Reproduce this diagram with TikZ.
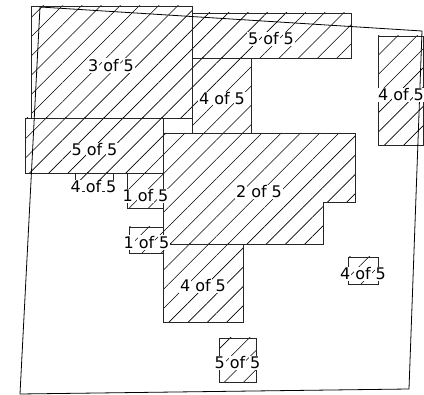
\documentclass[tikz,border=0pt]{standalone}
\usepackage{fontspec}
\setmainfont{DejaVu Sans}
\usetikzlibrary{patterns.meta}
\setlength{\fboxsep}{1pt}
\newcommand\wbox[1]{\colorbox{white}{\vphantom{0f}#1}}
\newcommand\lab[3]{\wbox{#1}\hspace{3pt}\wbox{#2}\hspace{3pt}\wbox{#3}}
\tikzset{
  hatch/.style={draw=black!85, line width=0.8pt, line join=miter,
    pattern={Lines[angle=45,distance=13.6pt,line width=0.6pt]}},
  outline/.style={draw=black, line width=0.8pt},
  lbl/.style={inner sep=0pt, font=\fontsize{16}{18}\selectfont}
}
\begin{document}
\begin{tikzpicture}[x=1pt,y=-1pt]
\useasboundingbox (0,0) rectangle (424,395);
% hatched regions
\draw[hatch] (31,6) rectangle (192,118);
\draw[hatch] (192,13) rectangle (351,58);
\draw[hatch] (192,58) rectangle (251,133);
\draw[hatch] (378,36) rectangle (423,145);
\draw[hatch] (25.7,118) rectangle (163,173);
\draw[hatch] (163,133) -- (355,133) -- (355,202) -- (323,202) -- (323,244) -- (163,244) -- cycle;
\draw[hatch] (163,244) rectangle (243,322);
\draw[hatch] (75,173) rectangle (113,191);
\draw[hatch] (127,173) rectangle (163,208);
\draw[hatch] (129,227) rectangle (163,253);
\draw[hatch] (348,257) rectangle (378,284);
\draw[hatch] (219,338) rectangle (256,382);
% outline quadrilateral
\draw[outline] (40,7) -- (422,31) -- (409,389) -- (20,394) -- cycle;
% labels
\node[lbl] (l3a) at (111,65.5) {\lab{3}{of}{5}};
\node[lbl] (l5a) at (271,39) {\lab{5}{of}{5}};
\node[lbl] (l4a) at (222,99) {\lab{4}{of}{5}};
\node[lbl] (l4b) at (401,95) {\lab{4}{of}{5}};
\node[lbl] (l5b) at (94.5,150) {\lab{5}{of}{5}};
\node[lbl] (l2a) at (259,192) {\lab{2}{of}{5}};
\node[lbl] (l4c) at (203,286) {\lab{4}{of}{5}};
\node[lbl] (l4d) at (93.5,187) {\lab{4}{of}{5}};
\node[lbl] (l1a) at (145.5,196) {\lab{1}{of}{5}};
\node[lbl] (l1b) at (146.5,242.5) {\lab{1}{of}{5}};
\node[lbl] (l4e) at (363,274) {\lab{4}{of}{5}};
\node[lbl] (l5c) at (237.5,363) {\lab{5}{of}{5}};
\end{tikzpicture}
\end{document}
